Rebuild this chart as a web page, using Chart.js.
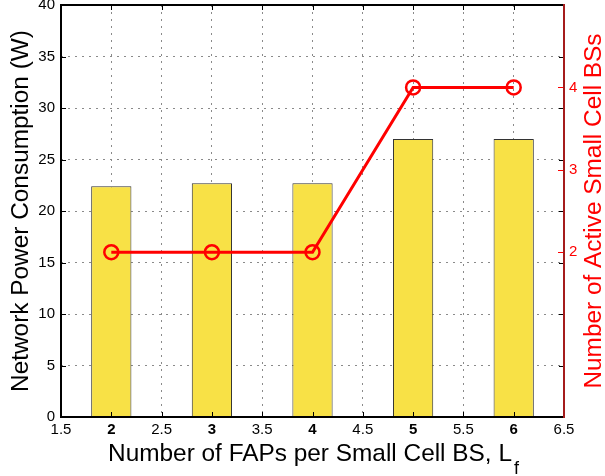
<!DOCTYPE html>
<html><head><meta charset="utf-8">
<script src="https://cdn.jsdelivr.net/npm/chart.js@4"></script>
<style>html,body{margin:0;padding:0;background:#fff;}</style>
</head><body>
<canvas id="c" width="605" height="476"></canvas>
<script>
const fapsPerBS = [2, 3, 4, 5, 6];
const powerW = [22.4, 22.7, 22.7, 27.0, 27.0];
const activeBS = [2, 2, 2, 4, 4];
const xTicks = [1.5, 2, 2.5, 3, 3.5, 4, 4.5, 5, 5.5, 6, 6.5];
const yTicks = [0, 5, 10, 15, 20, 25, 30, 35, 40];
const y2Ticks = [2, 3, 4];
const xTitle = 'Number of FAPs per Small Cell BS, L';
const xTitleSub = 'f';
const yTitle = 'Network Power Consumption (W)';
const y2Title = 'Number of Active Small Cell BSs';

const FONT = '"Liberation Sans", Arial, Helvetica, sans-serif';
const RED = '#ff0000';
const AXRED = '#a51c1c';
const TITLE_PX = 24.4;

const framePlugin = {
  id: 'frame',
  afterDraw(chart) {
    const ctx = chart.ctx;
    const a = chart.chartArea;
    const xs = chart.scales.x, ys = chart.scales.y, y2s = chart.scales.y2;
    ctx.save();
    ctx.lineWidth = 1;
    ctx.strokeStyle = '#000';
    ctx.beginPath();
    xTicks.forEach(v => {
      const px = Math.round(xs.getPixelForValue(v)) + 0.5;
      ctx.moveTo(px, a.bottom); ctx.lineTo(px, a.bottom - 5);
      ctx.moveTo(px, a.top); ctx.lineTo(px, a.top + 5);
    });
    yTicks.forEach(v => {
      const py = Math.round(ys.getPixelForValue(v)) + 0.5;
      ctx.moveTo(a.left, py); ctx.lineTo(a.left + 5, py);
      ctx.moveTo(a.right, py); ctx.lineTo(a.right - 5, py);
    });
    ctx.stroke();
    ctx.strokeStyle = RED;
    ctx.beginPath();
    y2Ticks.forEach(v => {
      const py = Math.round(y2s.getPixelForValue(v)) + 0.5;
      ctx.moveTo(a.right, py); ctx.lineTo(a.right - 6, py);
    });
    ctx.stroke();
    ctx.lineWidth = 2;
    ctx.strokeStyle = '#000';
    ctx.beginPath();
    ctx.moveTo(a.right, a.top); ctx.lineTo(a.left, a.top);
    ctx.lineTo(a.left, a.bottom); ctx.lineTo(a.right, a.bottom);
    ctx.stroke();
    ctx.strokeStyle = AXRED;
    ctx.beginPath();
    ctx.moveTo(a.right, a.top - 1); ctx.lineTo(a.right, a.bottom + 1);
    ctx.stroke();
    const cy = (a.top + a.bottom) / 2;
    ctx.fillStyle = '#000';
    ctx.font = TITLE_PX + 'px ' + FONT;
    ctx.textBaseline = 'alphabetic';
    ctx.textAlign = 'center';
    ctx.save();
    ctx.translate(28, cy);
    ctx.rotate(-Math.PI / 2);
    ctx.fillText(yTitle, 0, 0);
    ctx.restore();
    ctx.textAlign = 'left';
    const wMain = ctx.measureText(xTitle).width;
    ctx.font = '18px ' + FONT;
    const wSub = ctx.measureText(xTitleSub).width;
    const cx = (a.left + a.right) / 2;
    const x0 = cx - (wMain + wSub) / 2;
    ctx.font = TITLE_PX + 'px ' + FONT;
    ctx.fillText(xTitle, x0, 461);
    ctx.font = '18px ' + FONT;
    ctx.fillText(xTitleSub, x0 + wMain + 2, 474);
    ctx.fillStyle = RED;
    ctx.font = TITLE_PX + 'px ' + FONT;
    ctx.textAlign = 'center';
    ctx.save();
    ctx.translate(601, cy);
    ctx.rotate(-Math.PI / 2);
    ctx.fillText(y2Title, 0, 0);
    ctx.restore();
    ctx.restore();
  }
};

const noPad = s => { s.paddingTop = 0; s.paddingBottom = 0; s.paddingLeft = 0; s.paddingRight = 0; };

new Chart(document.getElementById('c'), {
  type: 'bar',
  data: {
    datasets: [
      {
        type: 'line',
        data: fapsPerBS.map((x, i) => ({ x, y: activeBS[i] })),
        yAxisID: 'y2',
        borderColor: RED,
        borderWidth: 3,
        pointRadius: 7,
        pointBorderWidth: 2.5,
        pointBackgroundColor: 'rgba(0,0,0,0)',
        pointBorderColor: RED,
        tension: 0,
        order: 0
      },
      {
        type: 'bar',
        data: fapsPerBS.map((x, i) => ({ x, y: powerW[i] })),
        yAxisID: 'y',
        backgroundColor: '#f8e146',
        borderColor: '#333',
        borderWidth: 1,
        categoryPercentage: 1,
        barPercentage: 0.8,
        order: 1
      }
    ]
  },
  options: {
    responsive: false,
    animation: false,
    devicePixelRatio: 1,
    layout: { autoPadding: false, padding: { top: 5, left: 0, right: 0, bottom: 0 } },
    plugins: { legend: { display: false }, tooltip: { enabled: false } },
    scales: {
      x: {
        type: 'linear',
        min: 1.5, max: 6.5,
        offset: false,
        afterBuildTicks: s => { s.ticks = xTicks.map(v => ({ value: v })); },
        afterFit: s => { s.height = 59; noPad(s); },
        ticks: {
          autoSkip: false, maxRotation: 0, padding: 4, color: '#000',
          callback: v => String(v),
          font: ctx => ({
            family: FONT, size: 15,
            weight: (ctx.tick && fapsPerBS.includes(ctx.tick.value)) ? 'bold' : 'normal'
          })
        },
        grid: { color: '#8a8a8a', lineWidth: 1, drawTicks: false, offset: false },
        border: { display: false, dash: [2, 5] }
      },
      y: {
        position: 'left',
        min: 0, max: 40,
        afterBuildTicks: s => { s.ticks = yTicks.map(v => ({ value: v })); },
        afterFit: s => { s.width = 61; noPad(s); },
        ticks: { padding: 6, color: '#000', font: { family: FONT, size: 15 } },
        grid: { color: '#8a8a8a', lineWidth: 1, drawTicks: false },
        border: { display: false, dash: [2, 5] }
      },
      y2: {
        position: 'right',
        min: 0, max: 5,
        afterBuildTicks: s => { s.ticks = y2Ticks.map(v => ({ value: v })); },
        afterFit: s => { s.width = 41; noPad(s); },
        ticks: { padding: 5, color: RED, font: { family: FONT, size: 15 } },
        grid: { display: false, drawTicks: false },
        border: { display: false }
      }
    }
  },
  plugins: [framePlugin]
});
</script>
</body></html>
